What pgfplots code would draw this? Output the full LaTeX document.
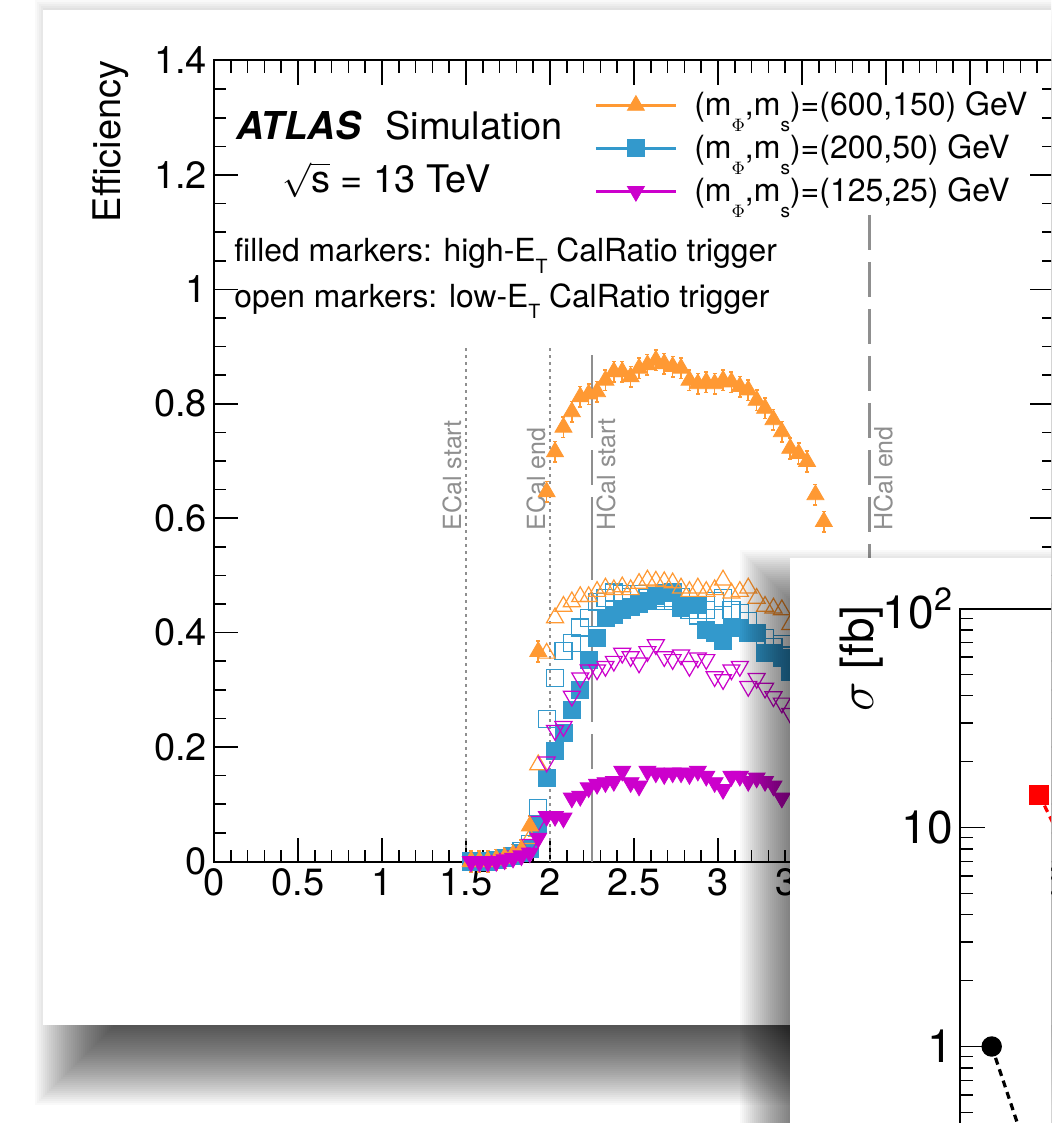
\documentclass[border=0pt]{standalone}
\usepackage{fontspec}
\setmainfont{TeX Gyre Heros}
\usepackage{pgfplots}
\pgfplotsset{compat=1.18}
\definecolor{corange}{HTML}{FF9933}
\definecolor{cblue}{HTML}{3399CC}
\definecolor{cmag}{HTML}{CC00CC}
\definecolor{cgray}{HTML}{8F8F8F}
\newcommand\fs[1]{\fontsize{#1}{#1}\selectfont}
\newcommand\lsub[1]{\raisebox{-0.5em}{\fontsize{9.5}{9.5}\selectfont #1}}
\newcommand\tsub[1]{\raisebox{-0.35em}{\fontsize{9.8}{9.8}\selectfont #1}}
\pgfplotsset{
  ofill/.style={only marks, color=corange, mark=triangle*, mark size=4.9pt, mark options={solid, fill=corange, draw=corange}},
  bfill/.style={only marks, color=cblue, mark=square*, mark size=4.25pt, mark options={solid, fill=cblue, draw=cblue}},
  mfill/.style={only marks, color=cmag, mark=triangle*, mark size=4.9pt, mark options={solid, fill=cmag, draw=cmag, rotate=180}},
  oopen/.style={only marks, color=corange, mark=triangle, mark size=4.9pt, mark options={solid, line width=0.6pt}},
  bopen/.style={only marks, color=cblue, mark=square, mark size=4.25pt, mark options={solid, line width=0.6pt}},
  mopen/.style={only marks, color=cmag, mark=triangle, mark size=4.9pt, mark options={solid, line width=0.6pt, rotate=180}},
}
\begin{document}
\begin{tikzpicture}
\useasboundingbox (0,0) rectangle (525.5pt,-561.5pt);
\clip (0,0) rectangle (525.5pt,-561.5pt);
\begin{scope}[x=0.5pt,y=-0.5pt]
  \fill[white] (-10,-10) rectangle (1100,1150);
  \foreach \k in {0,...,44} {
    \pgfmathsetmacro\ee{45-2*\k}
    \fill[black, opacity=0.024] (80-\ee,45-\ee) rectangle (1200+\ee,1060+\ee);
  }
  \fill[white] (43,10) rectangle (1200,1025);
  \node[anchor=base west, inner sep=0pt, font=\fs{19.2}] at (236,140) {\textbf{\textit{ATLAS}}};
  \node[anchor=base west, inner sep=0pt, font=\fs{19}] at (385,140) {Simulation};
  \node[anchor=base west, inner sep=0pt, font=\fs{19}] at (282,192) {$\sqrt{\mbox{s}}$ = 13 TeV};
  \node[anchor=base west, inner sep=0pt, font=\fs{15.9}] at (234,262) {filled markers: high-E\tsub{T} CalRatio trigger};
  \node[anchor=base west, inner sep=0pt, font=\fs{15.9}] at (234,307) {open markers: low-E\tsub{T} CalRatio trigger};
  \node[rotate=90, anchor=base east, inner sep=0pt, font=\fs{19}] at (120,60) {Efficiency};
\end{scope}

\begin{axis}[
  at={(107pt,-430.75pt)}, anchor=south west, scale only axis,
  width=420pt, height=400.5pt,
  xmin=0, xmax=5, ymin=0, ymax=1.4,
  xtick distance=0.5, ytick distance=0.2,
  minor x tick num=4, minor y tick num=3,
  tick align=inside, xtick pos=both, ytick pos=both,
  major tick length=12pt, minor tick length=6pt,
  axis line style={line width=1pt},
  tick style={line width=0.8pt, black},
  tick label style={font=\fs{19}},
  /pgf/number format/assume math mode=true,
  clip=false,
  legend style={draw=none, fill=none, at={(axis description cs:0.4524,0.9713)}, anchor=north west,
    inner sep=0pt, row sep=0pt, font=\fs{16},
    nodes={inner sep=0pt, text height=16pt, text depth=5.5pt}, cells={anchor=west}},
  legend image code/.code={
    \draw[#1, solid, line width=1.5pt] (0pt,0pt) -- (40pt,0pt);
    \draw[#1, solid] plot coordinates {(20pt,0pt)};
    \path (49pt,0pt);
  },
]
\addlegendimage{ofill}
\addlegendentry{(m\lsub{$\Phi$},m\lsub{s})=(600,150) GeV}
\addlegendimage{bfill}
\addlegendentry{(m\lsub{$\Phi$},m\lsub{s})=(200,50) GeV}
\addlegendimage{mfill}
\addlegendentry{(m\lsub{$\Phi$},m\lsub{s})=(125,25) GeV}

\draw[cgray, line width=1.3pt, dash pattern=on 1.2pt off 2.3pt] (axis cs:1.5,0) -- (axis cs:1.5,0.9);
\draw[cgray, line width=1.3pt, dash pattern=on 1.2pt off 2.3pt] (axis cs:2,0) -- (axis cs:2,0.9);
\draw[cgray, line width=1.4pt, dash pattern=on 41.5pt off 6pt on 17.5pt off 6pt] (axis cs:2.25,0.885) -- (axis cs:2.25,0);
\draw[cgray, line width=1.4pt, dash pattern=on 17.5pt off 6pt] (axis cs:3.9,1.13) -- (axis cs:3.9,0);
\node[rotate=90, anchor=south west, inner sep=2pt, text=cgray, font=\fs{12.5}] at (axis cs:1.5,0.571) {ECal start};
\node[rotate=90, anchor=south west, inner sep=2pt, text=cgray, font=\fs{12.5}] at (axis cs:2,0.571) {ECal end};
\node[rotate=90, anchor=north west, inner sep=2pt, text=cgray, font=\fs{12.5}] at (axis cs:2.25,0.571) {HCal start};
\node[rotate=90, anchor=north west, inner sep=2pt, text=cgray, font=\fs{12.5}] at (axis cs:3.9,0.571) {HCal end};

% filled blue (high-ET, 200,50)
\addplot[bfill, forget plot] table {
1.53 0
1.58 0
1.63 0
1.68 0.003
1.73 0.006
1.78 0.01
1.83 0.015
1.88 0.022
1.93 0.065
1.98 0.146
2.03 0.193
2.08 0.224
2.13 0.265
2.18 0.300
2.23 0.353
2.28 0.390
2.33 0.425
2.38 0.431
2.43 0.440
2.48 0.445
2.53 0.450
2.58 0.455
2.63 0.465
2.68 0.470
2.73 0.472
2.78 0.443
2.83 0.449
2.88 0.449
2.93 0.405
2.98 0.400
3.03 0.385
3.08 0.408
3.13 0.408
3.18 0.400
3.23 0.399
3.28 0.364
3.33 0.364
3.38 0.356
3.43 0.332
};
% open blue (low-ET, 200,50)
\addplot[bopen, forget plot] table {
1.53 0
1.58 0
1.63 0
1.68 0.003
1.73 0.006
1.78 0.01
1.83 0.018
1.88 0.03
1.93 0.094
1.98 0.249
2.03 0.321
2.08 0.368
2.13 0.382
2.18 0.409
2.23 0.425
2.28 0.454
2.33 0.460
2.38 0.470
2.43 0.468
2.48 0.462
2.53 0.468
2.58 0.460
2.63 0.455
2.68 0.460
2.73 0.455
2.78 0.463
2.83 0.440
2.88 0.430
2.93 0.440
2.98 0.455
3.03 0.460
3.08 0.440
3.13 0.434
3.18 0.420
3.23 0.400
3.28 0.390
3.33 0.375
3.38 0.380
3.43 0.360
};
% open orange (low-ET, 600,150)
\addplot[oopen, forget plot] table {
1.53 0
1.58 0
1.63 0
1.68 0.003
1.73 0.006
1.78 0.01
1.83 0.018
1.88 0.04
1.93 0.169
1.98 0.364
2.03 0.426
2.08 0.446
2.13 0.454
2.18 0.463
2.23 0.463
2.28 0.472
2.33 0.478
2.38 0.475
2.43 0.480
2.48 0.475
2.53 0.486
2.58 0.492
2.63 0.490
2.68 0.489
2.73 0.487
2.78 0.478
2.83 0.472
2.88 0.478
2.93 0.472
2.98 0.475
3.03 0.492
3.08 0.469
3.13 0.472
3.18 0.478
3.23 0.460
3.28 0.446
3.33 0.443
3.38 0.440
3.43 0.414
};
% open magenta (low-ET, 125,25)
\addplot[mopen, forget plot] table {
1.53 0
1.58 0
1.63 0
1.68 0.002
1.73 0.005
1.78 0.01
1.83 0.015
1.88 0.03
1.93 0.07
1.98 0.174
2.03 0.229
2.08 0.236
2.13 0.289
2.18 0.321
2.23 0.335
2.28 0.335
2.33 0.341
2.38 0.350
2.43 0.364
2.48 0.358
2.53 0.347
2.58 0.367
2.63 0.379
2.68 0.358
2.73 0.353
2.78 0.361
2.83 0.341
2.88 0.356
2.93 0.353
2.98 0.323
3.03 0.318
3.08 0.335
3.13 0.341
3.18 0.306
3.23 0.320
3.28 0.303
3.33 0.288
3.38 0.277
3.43 0.259
};
% filled orange (high-ET, 600,150)
\addplot[ofill, forget plot, error bars/.cd, y dir=both, y fixed=0.018,
  error bar style={line width=0.8pt, corange},
  error mark options={rotate=90, mark size=1pt, line width=0.8pt, corange}] table {
1.53 0
1.58 0
1.63 0
1.68 0.003
1.73 0.006
1.78 0.012
1.83 0.02
1.88 0.062
1.93 0.367
1.98 0.646
2.03 0.716
2.08 0.759
2.13 0.786
2.18 0.812
2.23 0.817
2.28 0.821
2.33 0.841
2.38 0.856
2.43 0.856
2.48 0.847
2.53 0.862
2.58 0.868
2.63 0.876
2.68 0.870
2.73 0.865
2.78 0.862
2.83 0.841
2.88 0.835
2.93 0.838
2.98 0.835
3.03 0.841
3.08 0.838
3.13 0.830
3.18 0.824
3.23 0.806
3.28 0.792
3.33 0.772
3.38 0.751
3.43 0.722
3.48 0.713
3.53 0.699
3.58 0.641
3.63 0.594
};
% filled magenta (high-ET, 125,25)
\addplot[mfill, forget plot] table {
1.53 0
1.58 0
1.63 0
1.68 0
1.73 0.003
1.78 0.006
1.83 0.01
1.88 0.015
1.93 0.041
1.98 0.079
2.03 0.079
2.08 0.076
2.13 0.111
2.18 0.114
2.23 0.129
2.28 0.135
2.33 0.138
2.38 0.140
2.43 0.158
2.48 0.138
2.53 0.132
2.58 0.158
2.63 0.155
2.68 0.152
2.73 0.155
2.78 0.155
2.83 0.152
2.88 0.158
2.93 0.149
2.98 0.138
3.03 0.126
3.08 0.149
3.13 0.149
3.18 0.140
3.23 0.146
3.28 0.140
3.33 0.132
3.38 0.111
};
\end{axis}

\begin{scope}[x=0.5pt,y=-0.5pt]
  \foreach \k in {0,...,44} {
    \pgfmathsetmacro\ee{45-2*\k}
    \fill[black, opacity=0.024] (785-\ee,595-\ee) rectangle (1400+\ee,1500+\ee);
  }
  \fill[white] (790,558) rectangle (1300,1300);
  \node[rotate=90, anchor=east, inner sep=0pt, font=\fs{23}] at (862,605) {$\sigma$ [fb]};
\end{scope}

\begin{axis}[
  at={(480pt,-632.75pt)}, anchor=south west, scale only axis,
  width=158.5pt, height=328.5pt,
  ymode=log, xmin=0, xmax=10, ymin=0.1, ymax=100,
  xtick=\empty, minor xtick={1,2,3,4,5,6,7,8,9},
  ytick={0.1,1,10,100}, yticklabels={0.1,1,10,10\textsuperscript{2}},
  minor ytick={0.2,0.3,0.4,0.5,0.6,0.7,0.8,0.9,2,3,4,5,6,7,8,9,20,30,40,50,60,70,80,90},
  tick align=inside, xtick pos=both, ytick pos=both,
  major tick length=12.5pt, minor tick length=6.4pt,
  axis line style={line width=1pt},
  tick style={line width=0.8pt, black},
  yticklabel style={font=\fs{23}},
  clip=false,
]
\addplot[black, line width=1.6pt, dash pattern=on 3.5pt off 2.5pt, mark=*, mark size=4.3pt, mark options={solid}, mark indices={1}] coordinates {(1,1) (2,0.37)};
\addplot[red, line width=1.6pt, dash pattern=on 3.5pt off 2.5pt, mark=square*, mark size=4.25pt, mark options={solid}, mark indices={1}] coordinates {(2.5,14.1) (3.5,7.1)};
\end{axis}
\end{tikzpicture}
\end{document}
